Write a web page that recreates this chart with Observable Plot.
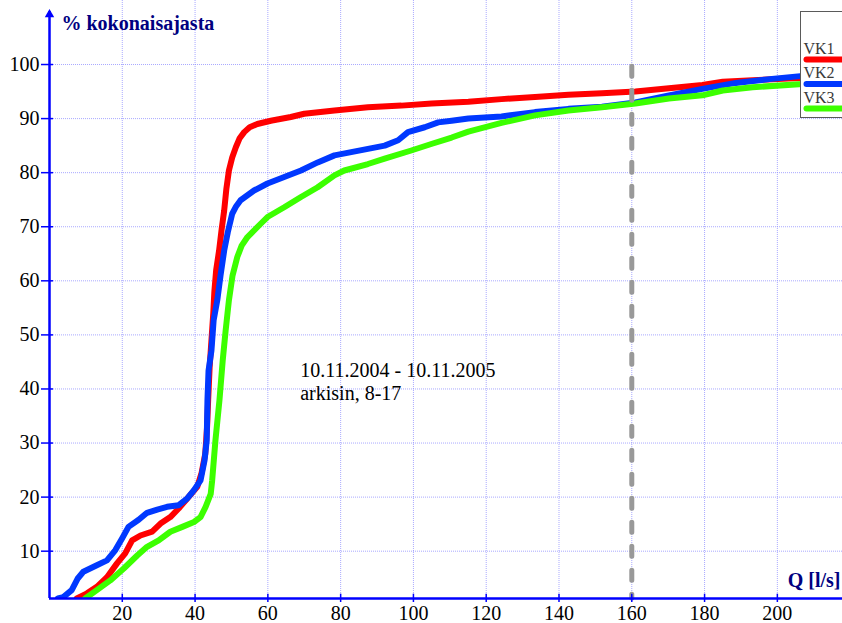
<!DOCTYPE html>
<html><head><meta charset="utf-8">
<script src="https://cdn.jsdelivr.net/npm/d3@7"></script>
<script src="https://cdn.jsdelivr.net/npm/@observablehq/plot@0.6"></script>
<style>
html,body{margin:0;padding:0;background:#fff;overflow:hidden;}
#wrap{position:relative;width:842px;height:623px;overflow:hidden;}
#legend{position:absolute;left:800px;top:11px;width:60px;height:107px;background:#fff;border:1.5px solid #5a5a5a;box-sizing:border-box;}
</style></head><body><div id="wrap"><div id="chart"></div><div id="legend"></div></div>
<script>
// ---- data ----
const seriesNames = ["VK1", "VK2", "VK3"];
const seriesColors = ["#ff0000", "#0038ff", "#3cff00"];

const vk1Q = [7.5,10.3,13.0,15.8,18.5,20.8,22.7,25.0,28.2,30.5,33.2,35.5,37.8,40.6,41.8,42.8,43.3,43.6,44.0,44.5,45.0,45.3,45.8,46.6,47.3,48.0,48.6,49.3,50.2,51.2,52.2,53.5,55.0,57.1,60.8,66.3,70.0,78.3,87.5,96.7,105.0,115.1,124.2,133.4,142.6,151.8,161.0,170.2,179.4,185.0,193.2,203.0,210.0,218.0];
const vk1P = [1.25,2.2,3.4,5.2,7.7,9.6,12.0,12.9,13.6,15.1,16.3,17.9,19.7,21.9,24.5,28.0,33.0,38.0,44.0,49.0,54.0,58.0,62.0,65.6,69.5,73.0,77.0,80.4,82.8,84.7,86.3,87.5,88.4,89.0,89.6,90.3,90.9,91.5,92.1,92.4,92.8,93.1,93.6,94.0,94.4,94.7,95.0,95.6,96.2,96.8,97.1,97.4,97.6,97.9];

const vk2Q = [2.3,3.8,6.1,7.7,9.3,13.0,15.8,18.1,19.9,21.7,24.5,26.8,29.6,32.3,35.5,37.8,39.7,41.5,42.6,43.2,43.4,43.7,44.5,45.1,46.1,47.0,48.0,49.0,50.2,51.3,52.5,56.2,59.9,64.5,69.1,73.7,78.3,82.9,87.5,92.1,95.8,98.5,103.1,106.8,110.5,115.1,124.2,133.4,142.6,151.8,161.0,170.2,179.4,188.6,197.8,207.0,218.0];
const vk2P = [1.25,1.5,2.8,4.9,6.2,7.4,8.3,10.2,12.3,14.5,15.8,17.1,17.7,18.2,18.5,19.7,21.3,23.1,26.8,30.5,37.9,43.4,47.1,52.7,56.4,61.0,65.6,69.0,72.4,73.8,74.9,76.7,78.0,79.2,80.4,81.9,83.2,83.8,84.4,85.0,86.0,87.5,88.4,89.3,89.6,90.0,90.4,91.2,91.8,92.2,93.0,94.3,95.5,96.6,97.3,97.9,98.3];

const vk3Q = [9.8,13.0,16.7,20.4,24.1,26.8,30.0,33.2,36.5,39.7,41.5,42.9,44.3,44.7,45.6,46.7,47.6,48.4,49.3,50.3,51.6,52.8,54.4,58.1,59.9,64.5,69.1,73.7,78.3,81.0,87.5,92.1,99.4,104.9,110.5,115.1,124.2,133.4,142.6,151.8,161.0,170.2,179.4,185.0,193.2,207.0,218.0];
const vk3P = [1.25,2.8,4.6,6.8,9.2,10.8,12.0,13.6,14.5,15.4,16.3,18.2,20.6,23.1,30.5,37.9,45.3,50.8,56.4,61.0,64.4,66.5,68.1,70.6,71.8,73.6,75.5,77.3,79.5,80.4,81.6,82.6,84.1,85.3,86.5,87.6,89.2,90.6,91.5,92.1,92.8,93.7,94.3,95.2,95.8,96.4,96.8];

const xTicks = [20, 40, 60, 80, 100, 120, 140, 160, 180, 200];
const yTicks = [10, 20, 30, 40, 50, 60, 70, 80, 90, 100];
const refQ = [160];
const yTitle = "% kokonaisajasta";
const xTitle = "Q [l/s]";
const annotationLines = ["10.11.2004 - 10.11.2005", "arkisin, 8-17"];
const annotationQ = [68.9];
const annotationP = [37.9];

// ---- build ----
const qs = [vk1Q, vk2Q, vk3Q], ps = [vk1P, vk2P, vk3P];
const rows = [];
seriesNames.forEach((s, i) => qs[i].forEach((q, j) => rows.push({series: s, q, p: ps[i][j]})));

const X_DOMAIN = [0, 217.9];
const Y_MIN = 1.25, Y_TOP = 111.84, Y_ARROW = 109.8;
const AXIS = "#0000ff";
const FONT = "'Liberation Serif','Times New Roman',serif";

const chart = Plot.plot({
  width: 842, height: 623,
  marginLeft: 49, marginRight: 0, marginTop: 0, marginBottom: 25,
  style: {fontFamily: FONT, background: "#fff", overflow: "hidden"},
  x: {domain: X_DOMAIN},
  y: {domain: [Y_MIN, Y_TOP]},
  color: {domain: seriesNames, range: seriesColors},
  marks: [
    Plot.gridX(xTicks, {stroke: "#8c8cff", strokeOpacity: 0.75, strokeDasharray: "1,1"}),
    Plot.gridY(yTicks, {stroke: "#8c8cff", strokeOpacity: 0.75, strokeDasharray: "1,1"}),
    Plot.line(rows, {x: "q", y: "p", z: "series", stroke: "series", strokeWidth: 6, strokeLinejoin: "round", strokeLinecap: "round", clip: true}),
    Plot.ruleX(refQ, {y1: 99.6, y2: Y_MIN, stroke: "#999999", strokeWidth: 5, strokeDasharray: "10,14", strokeLinecap: "round"}),
    Plot.ruleY([Y_MIN], {stroke: AXIS, strokeWidth: 2.5}),
    Plot.ruleX([0], {y1: Y_MIN, y2: Y_ARROW, stroke: AXIS, strokeWidth: 2.5}),
    Plot.dot([0], {x: d => d, y: () => Y_ARROW, symbol: "triangle", r: 3.5, fill: AXIS, stroke: "none", dy: 3}),
    Plot.axisX(xTicks, {tickSize: 4, tickPadding: 3, fontSize: 20, stroke: AXIS, fill: "#000", strokeWidth: 1.5, label: null}),
    Plot.ruleX(xTicks, {y1: Y_MIN, y2: Y_MIN + 0.8, stroke: AXIS, strokeWidth: 1.5}),
    Plot.axisY(yTicks, {tickSize: 8, tickPadding: 2, fontSize: 20, stroke: AXIS, fill: "#000", strokeWidth: 1.5, label: null}),
    Plot.ruleY(yTicks, {x1: 0, x2: 1.1, stroke: AXIS, strokeWidth: 1.5}),
    Plot.text([yTitle], {frameAnchor: "top-left", dx: 12, dy: 29, lineAnchor: "bottom", textAnchor: "start", fontSize: 20, fontWeight: "bold", fill: "#000080"}),
    Plot.text([xTitle], {frameAnchor: "bottom-right", dx: -2, dy: -12, lineAnchor: "bottom", textAnchor: "end", fontSize: 20, fontWeight: "bold", fill: "#000080"}),
    Plot.text([annotationLines.join("\n")], {x: () => annotationQ[0], y: () => annotationP[0], textAnchor: "start", lineAnchor: "bottom", lineHeight: 1.15, fontSize: 20, fill: "#000"})
  ]
});
document.getElementById("chart").appendChild(chart);

// legend
const lg = d3.select("#legend").append("svg").attr("width", 60).attr("height", 104).style("display", "block");
seriesNames.forEach((s, i) => {
  lg.append("text").attr("x", 2.5).attr("y", 41.5 + i * 24.5).text(s)
    .attr("font-family", FONT).attr("font-size", 16).attr("fill", "#3a3a3a");
  lg.append("line").attr("x1", 5.5).attr("x2", 80).attr("y1", 47.5 + i * 24.5).attr("y2", 47.5 + i * 24.5)
    .attr("stroke", seriesColors[i]).attr("stroke-width", 6).attr("stroke-linecap", "round");
});
</script>
</body></html>
